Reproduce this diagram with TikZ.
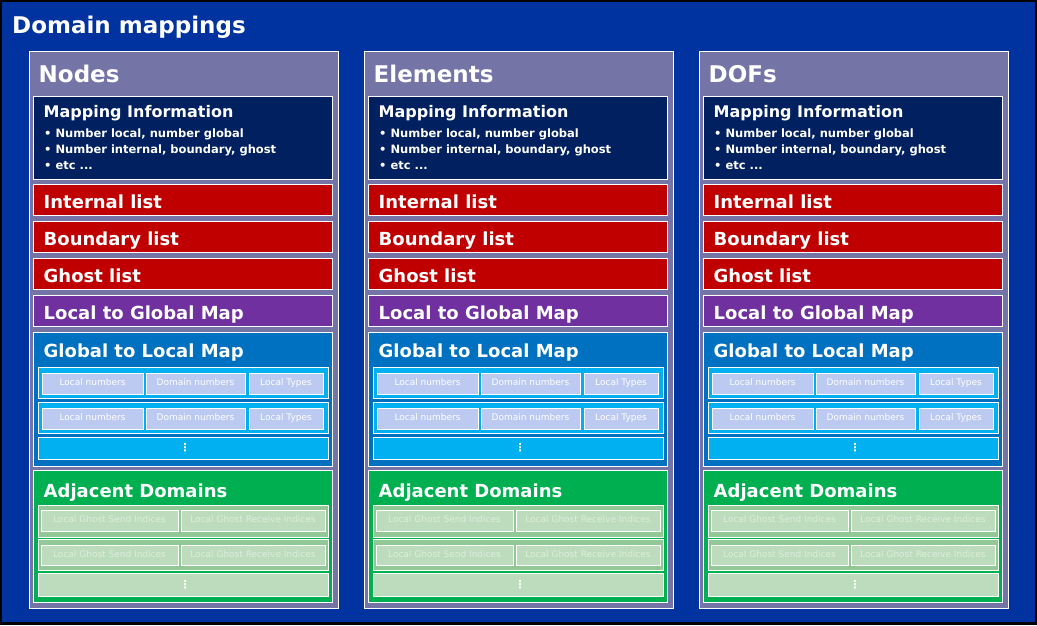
\documentclass[tikz,border=0pt]{standalone}
\usepackage{fontspec}
\setmainfont{DejaVu Sans}
\definecolor{bgblue}{HTML}{0033A0}
\definecolor{panelfill}{HTML}{7474A6}
\definecolor{mapfill}{HTML}{002060}
\definecolor{listred}{HTML}{C00000}
\definecolor{l2gpurple}{HTML}{7030A0}
\definecolor{g2lblue}{HTML}{0070C0}
\definecolor{rowcyan}{HTML}{00B0F0}
\definecolor{cellblue}{HTML}{BCCAF2}
\definecolor{adjgreen}{HTML}{00B050}
\definecolor{rowgreen}{HTML}{92C896}
\definecolor{cellgreen}{HTML}{BDDCBD}
\definecolor{celltextgreen}{HTML}{DCEEDC}
\tikzset{
  x=1pt, y=-1pt,
  whiteline/.style={draw=white, line width=0.9pt},
  panel/.style={whiteline, fill=panelfill},
  mapbox/.style={whiteline, fill=mapfill},
  redbox/.style={whiteline, fill=listred},
  purplebox/.style={whiteline, fill=l2gpurple},
  g2lbox/.style={whiteline, fill=g2lblue},
  cyanrow/.style={whiteline, fill=rowcyan},
  bluecell/.style={whiteline, fill=cellblue},
  greenbox/.style={whiteline, fill=adjgreen},
  greenrow/.style={whiteline, fill=rowgreen},
  greencell/.style={whiteline, fill=cellgreen},
  txt/.style={inner sep=0pt, anchor=base west, text=white},
  bigtitle/.style={txt, font=\bfseries\fontsize{23}{26}\selectfont},
  boxtitle/.style={txt, font=\bfseries\fontsize{18}{20}\selectfont},
  infotitle/.style={txt, font=\bfseries\fontsize{16}{18}\selectfont},
  bullettext/.style={txt, font=\bfseries\fontsize{11.5}{13}\selectfont},
  celltext/.style={inner sep=0pt, anchor=center, text=white, text height=6.6pt, text depth=1.9pt,
    font=\fontsize{9}{10}\selectfont},
  gcelltext/.style={celltext, text=celltextgreen},
  dots/.style={inner sep=0pt, anchor=center, text=white, font=\bfseries\fontsize{11}{12}\selectfont},
}
% one column of the domain mappings: #1 x shift, #2 heading, #3 name prefix
\newcommand\domaincolumn[3]{%
\begin{scope}[xshift=#1pt]
  \draw[panel] (29,51) rectangle (338,608);
  \node[bigtitle] (#3-title) at (38.5,82) {#2};
  % mapping information
  \draw[mapbox] (33.5,96) rectangle (332.5,179);
  \node[infotitle] (#3-info) at (43.5,117) {Mapping Information};
  \node[bullettext] (#3-b1) at (44,137) {• Number local, number global};
  \node[bullettext] (#3-b2) at (44,153) {• Number internal, boundary, ghost};
  \node[bullettext] (#3-b3) at (44,169) {• etc ...};
  % lists
  \draw[redbox] (33.5,184) rectangle (332.5,215);
  \node[boxtitle] (#3-internal) at (43.5,208) {Internal list};
  \draw[redbox] (33.5,221) rectangle (332.5,252);
  \node[boxtitle] (#3-boundary) at (43.5,245) {Boundary list};
  \draw[redbox] (33.5,258) rectangle (332.5,289);
  \node[boxtitle] (#3-ghost) at (43.5,282) {Ghost list};
  \draw[purplebox] (33.5,295) rectangle (332.5,326);
  \node[boxtitle] (#3-l2g) at (43.5,319) {Local to Global Map};
  % global to local map
  \draw[g2lbox] (33.5,332) rectangle (332.5,466);
  \node[boxtitle] (#3-g2l) at (43.5,357) {Global to Local Map};
  \draw[cyanrow] (38,367.5) rectangle (328,398.5);
  \draw[bluecell] (42,373) rectangle (143,394);
  \node[celltext] (#3-r1a) at (92.5,383.5) {Local numbers};
  \draw[bluecell] (146,373) rectangle (245,394);
  \node[celltext] (#3-r1b) at (195.5,383.5) {Domain numbers};
  \draw[bluecell] (249,373) rectangle (323.5,394);
  \node[celltext] (#3-r1c) at (286,383.5) {Local Types};
  \draw[cyanrow] (38,402.5) rectangle (328,433.5);
  \draw[bluecell] (42,408) rectangle (143,429);
  \node[celltext] (#3-r2a) at (92.5,418.5) {Local numbers};
  \draw[bluecell] (146,408) rectangle (245,429);
  \node[celltext] (#3-r2b) at (195.5,418.5) {Domain numbers};
  \draw[bluecell] (249,408) rectangle (323.5,429);
  \node[celltext] (#3-r2c) at (286,418.5) {Local Types};
  \draw[cyanrow] (38,437.5) rectangle (328,459);
  \node[dots] (#3-g2ldots) at (185,448) {⋮};
  % adjacent domains
  \draw[greenbox] (33.5,470.5) rectangle (332.5,602);
  \node[boxtitle] (#3-adj) at (43.5,497) {Adjacent Domains};
  \draw[greenrow] (38,505.5) rectangle (328,537);
  \draw[greencell] (41,510.5) rectangle (178,531);
  \node[gcelltext] (#3-a1a) at (109.5,520.5) {Local Ghost Send Indices};
  \draw[greencell] (181,510.5) rectangle (325,531);
  \node[gcelltext] (#3-a1b) at (253,520.5) {Local Ghost Receive Indices};
  \draw[greenrow] (38,539.5) rectangle (328,570.5);
  \draw[greencell] (41,545) rectangle (178,565.5);
  \node[gcelltext] (#3-a2a) at (109.5,555) {Local Ghost Send Indices};
  \draw[greencell] (181,545) rectangle (325,565.5);
  \node[gcelltext] (#3-a2b) at (253,555) {Local Ghost Receive Indices};
  \draw[greencell] (38,573.5) rectangle (328,596);
  \node[dots] (#3-adjdots) at (185,585) {⋮};
\end{scope}}
\begin{document}
\begin{tikzpicture}
  \fill[black] (0,0) rectangle (1037,625);
  \useasboundingbox (0,0) rectangle (1037,625);
  \fill[bgblue] (2,2) rectangle (1034.5,622);
  \node[bigtitle] (heading) at (12,33) {Domain mappings};
  \domaincolumn{0}{Nodes}{nodes}
  \domaincolumn{335}{Elements}{elements}
  \domaincolumn{670}{DOFs}{dofs}
\end{tikzpicture}
\end{document}
